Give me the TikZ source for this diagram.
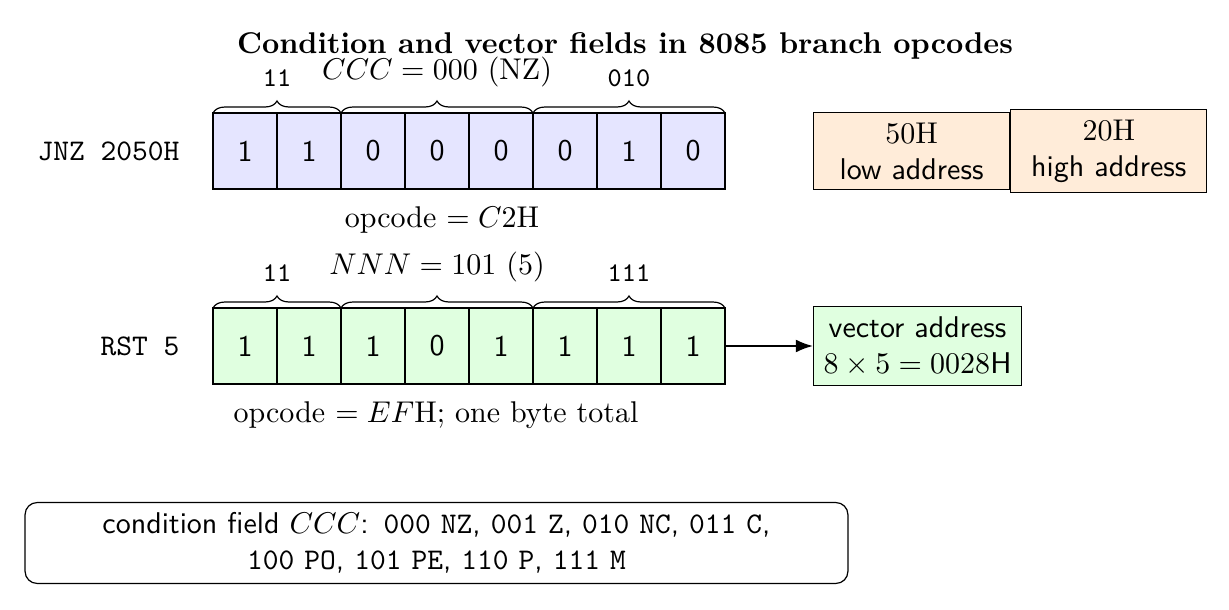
\documentclass[tikz,border=0pt]{standalone}
\usetikzlibrary{decorations.pathreplacing,arrows.meta,positioning,calc}
\begin{document}
\begin{tikzpicture}[x=0.33333pt,y=-0.33333pt,
  cellbase/.style={draw, minimum width=21.33pt, minimum height=25.33pt, inner sep=0pt, outer sep=0pt, font=\sffamily},
  cellA/.style={cellbase, fill=blue!10},
  cellB/.style={cellbase, fill=green!12},
  frame/.style={line width=0.6pt},
  bracedec/.style={decorate, decoration={brace, amplitude=4pt}},
  bracelabel/.style={midway, above=5.3pt},
  bitlabel/.style={bracelabel, font=\small\ttfamily},
  instr/.style={anchor=east, font=\ttfamily},
  addrbox/.style={draw, fill=orange!15, minimum width=65.33pt, align=center, font=\sffamily, anchor=west},
  vecbox/.style={draw, fill=green!12, align=center, font=\sffamily, anchor=west},
  notebox/.style={draw, rounded corners=4pt, align=center, text width=267.6pt, font=\sffamily},
  link/.style={semithick, -{Latex}}]
\useasboundingbox (0,0) rectangle (1229,610);

\node[font=\bfseries] (title) at (625,46) {Condition and vector fields in 8085 branch opcodes};

% row 1
\node[instr] (jnz) at (190,151) {JNZ 2050H};
\foreach \b [count=\i] in {1,1,0,0,0,0,1,0}
  \node[cellA] (a\i) at ({181+64*\i},151) {\b};
\draw[frame] (a1.north west) rectangle (a8.south east);
\draw[bracedec] (a1.north west) -- (a2.north east) node[bitlabel] (a12l) {11};
\draw[bracedec] (a3.north west) -- (a5.north east) node[bracelabel] (a35l) {$CCC = 000$ (NZ)};
\draw[bracedec] (a6.north west) -- (a8.north east) node[bitlabel] (a68l) {010};
\node (op1) at (442,220) {opcode $= C2$H};

\node[addrbox] (lo) at (813,151) {{\rmfamily 50H}\\low address};
\node[addrbox] (hi) at (lo.east) {{\rmfamily 20H}\\high address};

% row 2
\node[instr] (rst) at (190,346) {RST 5};
\foreach \b [count=\i] in {1,1,1,0,1,1,1,1}
  \node[cellB] (b\i) at ({181+64*\i},346) {\b};
\draw[frame] (b1.north west) rectangle (b8.south east);
\draw[bracedec] (b1.north west) -- (b2.north east) node[bitlabel] (b12l) {11};
\draw[bracedec] (b3.north west) -- (b5.north east) node[bracelabel] (b35l) {$NNN = 101$ (5)};
\draw[bracedec] (b6.north west) -- (b8.north east) node[bitlabel] (b68l) {111};
\node (op2) at (436,415) {opcode $= EF$H; one byte total};

\node[vecbox] (vec) at (813,346) {vector address\\$8\times 5 = 0028$H};
\draw[link] (b8.east) -- (vec.west);

% note
\node[notebox] (note) at (436.5,543) {condition field $CCC$: \texttt{000 NZ}, \texttt{001 Z}, \texttt{010 NC}, \texttt{011 C},\\ \texttt{100 PO}, \texttt{101 PE}, \texttt{110 P}, \texttt{111 M}};
\end{tikzpicture}
\end{document}
